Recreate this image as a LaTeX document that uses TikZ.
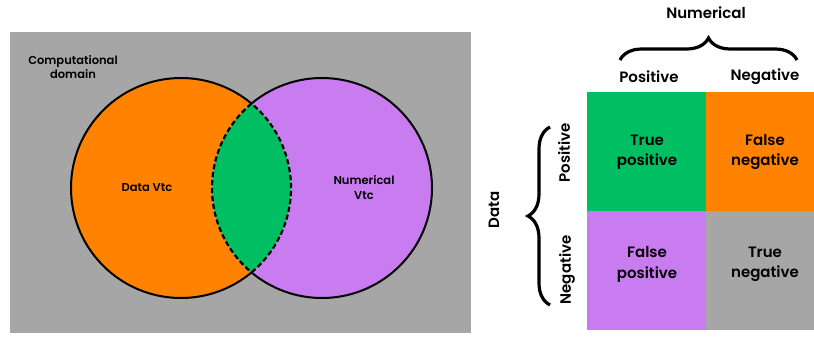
\documentclass[tikz,border=0pt]{standalone}
\usepackage{fontspec}
\setmainfont{Poppins SemiBold}
\usetikzlibrary{decorations.pathreplacing}
\definecolor{domgray}{HTML}{A6A6A6}
\definecolor{dataor}{HTML}{FF8300}
\definecolor{tpgreen}{HTML}{00BF63}
\definecolor{numpu}{HTML}{C97CEF}
\begin{document}
\begin{tikzpicture}[x=1pt,y=-1pt,
  small/.style={font=\fontsize{11.5}{14.5}\selectfont, align=center, inner sep=0},
  big/.style={font=\fontsize{15}{20.5}\selectfont, align=center, inner sep=0},
  cell/.style={minimum width=119pt, minimum height=119pt, inner sep=0, draw=none},
  outline/.style={line width=2pt},
  lens/.style={line width=2.2pt, dash pattern=on 5pt off 3pt},
  bracestyle/.style={decorate, decoration={brace, amplitude=22pt}, line width=3.2pt}]
\useasboundingbox (0,0) rectangle (814,338);
\fill[white] (0,0) rectangle (814,338);
% domain
\fill[domgray] (10,32) rectangle (471,333);
\node[small] (dom) at (73,67) {Computational\\domain};
% circles
\coordinate (cA) at (181,188);
\coordinate (cB) at (322,188);
\fill[dataor] (cA) circle[radius=110pt];
\fill[numpu] (cB) circle[radius=110pt];
\begin{scope}
  \clip (cA) circle[radius=110pt];
  \fill[tpgreen] (cB) circle[radius=110pt];
\end{scope}
\draw[outline] (cA) ++(50:110pt) arc[start angle=50, end angle=310, radius=110pt];
\draw[outline] (cB) ++(130:110pt) arc[start angle=130, end angle=-130, radius=110pt];
\draw[lens] (cA) ++(-50:110pt) arc[start angle=-50, end angle=50, radius=110pt];
\draw[lens] (cB) ++(130:110pt) arc[start angle=130, end angle=230, radius=110pt];
\node[small] (dvtc) at (147,188) {Data Vtc};
\node[small] (nvtc) at (364,187.5) {Numerical\\Vtc};
% matrix
\node[cell, fill=tpgreen] (tp) at (646.5,151.5) {};
\node[cell, fill=dataor] (fn) at (765.5,151.5) {};
\node[cell, fill=numpu] (fp) at (646.5,270) {};
\node[cell, fill=domgray] (tn) at (765.5,270) {};
\node[big] (tpt) at (647,152) {True\\positive};
\node[big] (fnt) at (765,152) {False\\negative};
\node[big] (fpt) at (647,264.5) {False\\positive};
\node[big] (tnt) at (765,264.5) {True\\negative};
% headers
\node[big] (num) at (706,13) {Numerical};
\node[big] (cpos) at (649,77) {Positive};
\node[big] (cneg) at (765,77) {Negative};
\coordinate (tbL) at (620,60);
\coordinate (tbR) at (797,60);
\draw[bracestyle] (tbL) -- (tbR);
\node[big, rotate=90] (data) at (494,210) {Data};
\node[big, rotate=90] (rpos) at (564,153) {Positive};
\node[big, rotate=90] (rneg) at (567,270) {Negative};
\coordinate (lbB) at (550,305);
\coordinate (lbT) at (550,127);
\draw[bracestyle] (lbB) -- (lbT);
\end{tikzpicture}
\end{document}
